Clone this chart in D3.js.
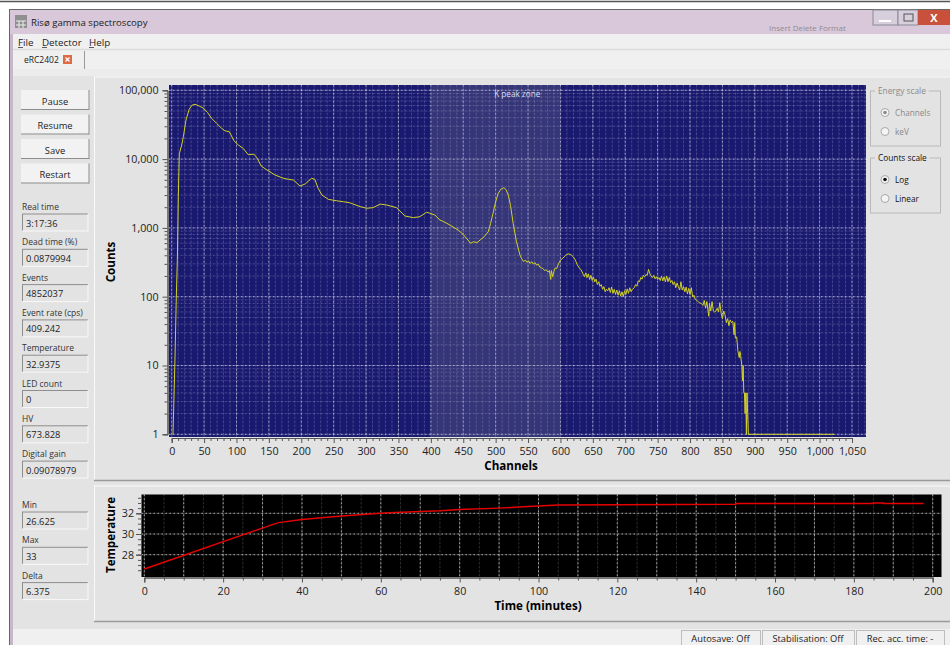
<!DOCTYPE html>
<html>
<head>
<meta charset="utf-8">
<title>Risø gamma spectroscopy</title>
<script src="https://cdn.jsdelivr.net/npm/d3@7"></script>
<style>
  html, body { margin: 0; padding: 0; background: #fff; overflow: hidden; }
  svg { display: block; }
  text { font-family: "Open Sans", "Noto Sans", sans-serif; font-size: 9.5px; fill: #222; }
  .axis path, .axis line { stroke: #555; }
  .axis text { font-size: 10.7px; fill: #222; font-family: "Open Sans", sans-serif; }
  .title { font-size: 11.6px; font-weight: bold; fill: #000; }
</style>
</head>
<body>
<svg id="chart" width="950" height="645"></svg>
<script>
// spectrum
var channels = [2, 5, 7, 8.7, 10.2, 11.8, 15.4, 18, 22, 27, 31, 36, 42.6, 49, 55.5, 61.7, 69.4, 77, 82, 89, 96, 103, 110.5, 118, 127, 132, 138, 147, 159.5, 172, 180, 188, 198, 206, 216, 221, 226, 232, 241.7, 254.6, 265, 275, 290.6, 301, 311, 321.5, 332, 347, 360, 373, 383, 393.5, 398.6, 406, 414, 420, 429.5, 442, 450, 456, 461, 466, 471, 476, 482, 488.6, 492, 496, 500, 504, 508, 512.8, 516, 519.5, 523, 527, 532, 537.5, 540, 543, 546, 548, 551, 553, 556, 558, 561, 563, 566, 568, 571, 573, 576, 578, 581, 583, 585, 586, 588, 590, 592, 594, 597, 600, 604, 608, 612, 616, 620, 623, 626, 629, 632, 635, 637, 639, 641, 643, 645, 647, 649, 651, 653, 655, 657, 659, 661, 663, 665, 667, 669, 671, 673, 675, 677, 679, 681, 683, 685, 687, 689, 691, 693, 695, 697, 699, 701, 703, 705, 707, 709, 711, 714, 716, 718, 720, 722, 724, 726, 728, 730, 732, 734, 736, 738, 740, 742, 744, 746, 748, 750, 752, 754, 756, 758, 760, 762, 764, 766, 768, 770, 772, 774, 776, 778, 780, 782, 784, 786, 788, 790, 792, 794, 796, 798, 800, 802, 804, 806, 808, 811, 814, 817, 820, 822, 824, 826, 828, 829, 830, 832, 834, 836, 838, 840, 842, 844, 846, 848, 850, 852, 854, 856, 858, 860, 862, 864, 866, 868, 869, 870, 872, 874, 876, 877, 878, 880, 881, 882, 883, 884, 885, 886, 887, 888, 889, 890, 1023];
var counts = [1, 12, 90, 340, 2840, 12000, 16000, 21100, 37000, 53000, 60500, 62600, 59000, 55000, 47300, 39000, 33000, 28000, 25800, 25000, 18500, 16000, 14300, 11600, 11800, 10300, 7950, 6950, 5870, 5280, 5100, 4960, 4060, 4350, 5270, 5080, 3760, 3000, 2600, 2480, 2400, 2320, 2040, 1930, 1970, 2220, 2150, 1970, 1490, 1410, 1455, 1690, 1630, 1540, 1300, 1230, 1100, 933, 800, 690, 597, 630, 610, 667, 740, 880, 1150, 1630, 2400, 3180, 3650, 3840, 3600, 3000, 2100, 1167, 640, 404, 360, 325, 340, 318, 330, 305, 322, 298, 312, 288, 296, 270, 262, 255, 240, 246, 228, 240, 178, 240, 195, 235, 262, 255, 300, 340, 365, 400, 420, 410, 378, 340, 290, 262, 245, 212, 195, 222, 190, 215, 178, 205, 172, 192, 165, 180, 150, 165, 142, 150, 128, 140, 118, 128, 122, 135, 115, 138, 112, 128, 108, 125, 105, 122, 102, 118, 100, 122, 108, 130, 112, 135, 118, 128, 135, 150, 142, 170, 165, 190, 180, 205, 195, 210, 205, 250, 215, 200, 190, 205, 182, 195, 178, 190, 172, 198, 170, 195, 165, 200, 165, 190, 160, 172, 150, 165, 135, 158, 140, 125, 165, 125, 140, 118, 138, 110, 132, 108, 135, 100, 105, 92, 88, 82, 80, 75, 88, 68, 85, 60, 52, 80, 62, 85, 62, 60, 62, 68, 60, 82, 58, 48, 62, 55, 42, 48, 38, 46, 42, 44, 28, 42, 25, 26, 16, 13, 16, 14, 10, 6, 10, 4, 4, 2, 4, 1, 4, 2, 1, 1];
var countTicks = [1, 10, 100, 1000, 10000, 100000];
var channelTicks = d3.range(0, 1051, 50);
var zoneRange = [400, 600];
var zoneLabel = "K peak zone";

// temperature history
var minutes = [0, 34, 40, 50, 60, 62, 75, 80, 90, 95, 105, 150, 150, 185, 185, 187.5, 187.5, 197.7];
var temperatures = [26.625, 31.1, 31.4, 31.75, 32, 32.06, 32.25, 32.375, 32.5, 32.6, 32.81, 32.875, 32.9375, 32.9375, 33, 33, 32.9375, 32.9375];
var minuteTicks = d3.range(0, 201, 20);
var temperatureTicks = [28, 30, 32];

// the window around the chart
var buttonLabels = ["Pause", "Resume", "Save", "Restart"];
var fieldLabels = ["Real time", "Dead time (%)", "Events", "Event rate (cps)", "Temperature", "LED count", "HV", "Digital gain"];
var fieldValues = ["3:17:36", "0.0879994", "4852037", "409.242", "32.9375", "0", "673.828", "0.09078979"];
var statLabels = ["Min", "Max", "Delta"];
var statValues = ["26.625", "33", "6.375"];
var statusLabels = ["Autosave: Off", "Stabilisation: Off", "Rec. acc. time: -"];

var svg = d3.select("#chart");

function box(x, y, w, h, fill, stroke) {
  return svg.append("rect").attr("x", x).attr("y", y).attr("width", w).attr("height", h)
    .attr("fill", fill).attr("stroke", stroke || "none");
}

function label(x, y, str, size, color, anchor) {
  return svg.append("text").attr("x", x).attr("y", y).text(str)
    .style("font-size", size + "px").style("fill", color || "#222")
    .attr("text-anchor", anchor || "start");
}

function hline(x1, x2, y, color, w) {
  svg.append("line").attr("x1", x1).attr("x2", x2).attr("y1", y).attr("y2", y)
    .attr("stroke", color).attr("stroke-width", w || 1);
}

function vline(x, y1, y2, color, w) {
  svg.append("line").attr("x1", x).attr("x2", x).attr("y1", y1).attr("y2", y2)
    .attr("stroke", color).attr("stroke-width", w || 1);
}

// window frame
hline(0, 950, 1.5, "#555", 1.5);
box(9, 9, 941, 636, "#d9c8da");
hline(10, 950, 9.5, "#666", 1);
vline(9.5, 9, 645, "#666", 1);
svg.append("rect").attr("x", 10).attr("y", 34).attr("width", 3).attr("height", 611).attr("fill", "#c9b6cd");
label(31, 25.5, "Risø gamma spectroscopy", 9.6, "#222");
label(769, 31, "Insert   Delete   Format", 8, "#555").style("opacity", 0.55);
box(15, 15, 12, 13, "#8f8f8f");
svg.append("path").attr("d", "M16 21H26M16 25H26M19 21V28M23 21V28").attr("stroke", "#eee").attr("fill", "none");
box(873, 10, 25, 15, "#d8cfdc", "#8a8a95");
box(898, 10, 20, 15, "#d8cfdc", "#8a8a95");
box(918, 10, 32, 15, "#c9503a");
hline(879, 891, 21, "#fff", 2);
box(904, 14, 9, 7, "none", "#555");
label(934, 22, "X", 11, "#fff", "middle").style("font-weight", "bold");

// menu and tab bar
box(13, 34, 937, 611, "#f0f0f0");
hline(13, 950, 49.5, "#dcdcdc", 1.5);
[["File", 18], ["Detector", 42], ["Help", 89]].forEach(function(m) {
  label(m[1], 46, m[0], 9.8, "#222");
  hline(m[1], m[1] + 5, 47.5, "#333", 0.8);
});
label(24, 63, "eRC2402", 8.5, "#222");
box(63, 55, 9, 9, "#de6a46");
svg.append("path").attr("d", "M65.5 57.5L69.5 61.5M69.5 57.5L65.5 61.5").attr("stroke", "#fff").attr("stroke-width", 1.3);
vline(84.5, 51, 69, "#999", 1);

// panels
box(13, 69, 937, 560, "#e3e3e3");
box(13, 69, 937, 7, "#ececec");
box(94, 77, 856, 402, "#e3e3e3");
hline(94, 950, 77, "#fafafa", 1);
vline(94.5, 77, 480, "#fafafa", 1);
hline(94, 950, 480.5, "#9a9a9a", 1.5);
hline(94, 950, 486, "#fafafa", 1);
vline(94.5, 486, 621, "#fafafa", 1);
hline(94, 950, 621.5, "#9a9a9a", 1.5);
box(13, 629, 937, 16, "#f0f0f0");

// push buttons
buttonLabels.forEach(function(b, i) {
  var y = 90 + i * 24.5;
  box(21, y, 68, 19.5, "#f2f2f2");
  hline(21, 89, y + 19.5, "#8d8d8d", 1);
  vline(89, y, y + 20, "#8d8d8d", 1);
  label(55, y + 14.5, b, 9.4, "#222", "middle");
});

function field(name, value, y) {
  label(22, y, name, 8.5, "#333");
  box(22, y + 4, 66, 17, "#e3e3e3");
  hline(22, 88, y + 4, "#8e8e8e", 1);
  vline(22.5, y + 4, y + 21, "#8e8e8e", 1);
  hline(22, 88, y + 21, "#f8f8f8", 1);
  vline(88, y + 4, y + 21, "#f8f8f8", 1);
  label(26, y + 16.5, value, 9.3, "#222");
}

fieldLabels.forEach(function(name, i) {
  field(name, fieldValues[i], 210 + i * 35.3);
});
statLabels.forEach(function(name, i) {
  field(name, statValues[i], 508 + i * 35.3);
});

// side group boxes
function group(name, y, h, options, selected, color) {
  svg.append("rect").attr("x", 870.5).attr("y", y).attr("width", 70).attr("height", h)
    .attr("fill", "none").attr("stroke", "#b9b9b9");
  var t = label(878, y + 3, name, 8.3, color);
  box(875, y - 3, t.node().getComputedTextLength() + 6, 6, "#e3e3e3");
  t.raise();
  options.forEach(function(o, i) {
    var cy = y + 21.5 + i * 19;
    svg.append("circle").attr("cx", 885).attr("cy", cy).attr("r", 4)
      .attr("fill", "#f4f4f4").attr("stroke", "#aaa");
    if (i === selected) {
      svg.append("circle").attr("cx", 885).attr("cy", cy).attr("r", 1.8).attr("fill", color);
    }
    label(895, cy + 3, o, 8.2, color);
  });
}
group("Energy scale", 91, 55, ["Channels", "keV"], 0, "#8a8a8a");
group("Counts scale", 158, 55, ["Log", "Linear"], 0, "#111");

// status bar
[[681, 79], [762, 92], [856, 88]].forEach(function(s, i) {
  box(s[0] + 0.5, 630.5, s[1], 16, "none", "#bdbdbd");
  label(s[0] + s[1] / 2, 642, statusLabels[i], 9.3, "#222", "middle");
});

// spectrum plot
var plot = { left: 169, right: 866, top: 85, bottom: 437 };
var xScale = d3.scaleLinear().domain([0, 1050]).range([171.7, 852]);
var yScale = d3.scaleLog().domain([1, 100000]).range([434.3, 90.3]);

box(plot.left, plot.top, plot.right - plot.left, plot.bottom - plot.top, "#191970");

var grid = svg.append("g");

function gridLines(parent, xs, ys, xScaleUsed, yScaleUsed, area, faint, dots) {
  xs.forEach(function(v) {
    var x = xScaleUsed(v);
    parent.append("line").attr("x1", x).attr("x2", x).attr("y1", area.top).attr("y2", area.bottom)
      .attr("stroke", "#fff").attr("stroke-opacity", faint);
    parent.append("line").attr("x1", x).attr("x2", x).attr("y1", area.top).attr("y2", area.bottom)
      .attr("stroke", "#fff").attr("stroke-opacity", dots).attr("stroke-dasharray", "1.5 2.5");
  });
  ys.forEach(function(v) {
    var y = yScaleUsed(v);
    parent.append("line").attr("x1", area.left).attr("x2", area.right).attr("y1", y).attr("y2", y)
      .attr("stroke", "#fff").attr("stroke-opacity", faint);
    parent.append("line").attr("x1", area.left).attr("x2", area.right).attr("y1", y).attr("y2", y)
      .attr("stroke", "#fff").attr("stroke-opacity", dots).attr("stroke-dasharray", "1.5 2.5");
  });
}

var minorChannels = d3.range(0, 1071, 10).filter(function(v) { return v % 50 !== 0; });
var minorCounts = [];
countTicks.slice(0, 5).forEach(function(decade) {
  d3.range(2, 10).forEach(function(m) { minorCounts.push(decade * m); });
});
gridLines(grid, minorChannels, minorCounts, xScale, yScale, plot, 0.07, 0.18);
gridLines(grid, channelTicks, countTicks, xScale, yScale, plot, 0.2, 0.55);

box(xScale(zoneRange[0]), plot.top, xScale(zoneRange[1]) - xScale(zoneRange[0]), plot.bottom - plot.top, "#999")
  .attr("fill-opacity", 0.22);
label(xScale(500) - 1.5, 97, zoneLabel, 8.2, "#dcdcec");

var spectrumLine = d3.line()
  .x(function(d) { return xScale(d); })
  .y(function(d, i) { return yScale(counts[i]); });
svg.append("path").attr("d", spectrumLine(channels))
  .attr("fill", "none").attr("stroke", "#d2d224").attr("stroke-width", 1);

var xAxis = d3.axisBottom(xScale).tickValues(channelTicks).tickFormat(d3.format(",")).tickSize(5).tickPadding(4);
svg.append("g").attr("class", "axis").attr("transform", "translate(0,438)").call(xAxis);
var xMinor = d3.axisBottom(xScale).tickValues(minorChannels.filter(function(v) { return v < 1050; })).tickFormat("").tickSize(3);
svg.append("g").attr("class", "axis").attr("transform", "translate(0,438)").call(xMinor);

var yAxis = d3.axisLeft(yScale).tickValues(countTicks).tickFormat(d3.format(",")).tickSize(5).tickPadding(4);
svg.append("g").attr("class", "axis").attr("transform", "translate(167.5,0)").call(yAxis);
var yMinor = d3.axisLeft(yScale).tickValues(minorCounts).tickFormat("").tickSize(3);
svg.append("g").attr("class", "axis").attr("transform", "translate(167.5,0)").call(yMinor);

svg.append("text").attr("class", "title").attr("text-anchor", "middle")
  .attr("x", 511).attr("y", 470).text("Channels");
svg.append("text").attr("class", "title").attr("text-anchor", "middle")
  .attr("transform", "translate(115,262) rotate(-90)").text("Counts");

// temperature plot
var tempPlot = { left: 141.5, right: 941.5, top: 494.5, bottom: 577 };
var tX = d3.scaleLinear().domain([0, 200]).range([144.3, 932.7]);
var tY = d3.scaleLinear().domain([28, 32]).range([554.7, 513.3]);

box(tempPlot.left, tempPlot.top, tempPlot.right - tempPlot.left, tempPlot.bottom - tempPlot.top, "#000");

var tGrid = svg.append("g");
var minuteMinor = d3.range(5, 200, 5).filter(function(v) { return v % 10 !== 0; });
var minuteMid = d3.range(10, 200, 20);
gridLines(tGrid, minuteMinor, [], tX, tY, tempPlot, 0.06, 0.16);
gridLines(tGrid, minuteTicks.concat(minuteMid), temperatureTicks, tX, tY, tempPlot, 0.2, 0.6);

var tempLine = d3.line()
  .x(function(d) { return tX(d); })
  .y(function(d, i) { return tY(temperatures[i]); });
svg.append("path").attr("d", tempLine(minutes))
  .attr("fill", "none").attr("stroke", "#e60000").attr("stroke-width", 1.5);

var tXAxis = d3.axisBottom(tX).tickValues(minuteTicks).tickFormat(d3.format("d")).tickSize(5).tickPadding(5);
svg.append("g").attr("class", "axis").attr("transform", "translate(0,577.5)").call(tXAxis);
var tXMinor = d3.axisBottom(tX).tickValues(minuteMid.concat(minuteMinor)).tickFormat("").tickSize(3);
svg.append("g").attr("class", "axis").attr("transform", "translate(0,577.5)").call(tXMinor);

var tYAxis = d3.axisLeft(tY).tickValues(temperatureTicks).tickFormat(d3.format("d")).tickSize(5).tickPadding(2);
svg.append("g").attr("class", "axis").attr("transform", "translate(141,0)").call(tYAxis);
var tYMinor = d3.axisLeft(tY).tickValues(d3.range(26.5, 33.6, 0.5).filter(function(v) { return v % 2 !== 0; })).tickFormat("").tickSize(3);
svg.append("g").attr("class", "axis").attr("transform", "translate(141,0)").call(tYMinor);

svg.append("text").attr("class", "title").attr("text-anchor", "middle")
  .attr("x", 538).attr("y", 610).text("Time (minutes)");
svg.append("text").attr("class", "title").attr("text-anchor", "middle")
  .attr("transform", "translate(115,535) rotate(-90)").text("Temperature");
</script>
</body>
</html>
